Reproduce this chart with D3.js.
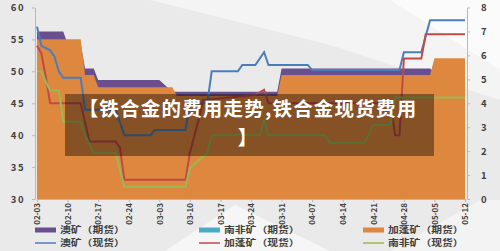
<!DOCTYPE html>
<html>
<head>
<meta charset="utf-8">
<script src="https://cdn.jsdelivr.net/npm/d3@7"></script>
<style>
  body { margin: 0; background: #eaeaea; }
  svg { display: block; }
  .axis text { font-family: "Noto Sans CJK SC", sans-serif; font-weight: bold; fill: #404040; }
  .axis path, .axis line { stroke: #b8b8b8; }
</style>
</head>
<body>
<script>
// week ticks and axis ticks
var weekTicks = ["02-03","02-10","02-17","02-24","03-03","03-10","03-17","03-24","03-31","04-07","04-14","04-21","04-28","05-05","05-12"];
var leftTicks = [30, 35, 40, 45, 50, 55, 60];
var rightTicks = [0, 1, 2, 3, 4, 5, 6, 7, 8];

// futures (right axis, areas)
var ausFut = [["02-03",7.0],["02-09",7.0],["02-10",6.5],["02-13",6.5],["02-14",5.45],["02-16",5.45],["02-17",4.97],["03-03",4.97],["03-06",4.48],["03-30",4.48],["03-31",5.45],["05-04",5.45],["05-05",5.3],["05-12",5.3]];
var safFut = [["02-03",4.2],["03-06",4.0],["05-12",4.0]];
var gabFut = [["02-03",6.67],["02-13",6.67],["02-14",5.18],["02-16",5.18],["02-17",4.67],["03-06",4.67],["03-07",4.3],["03-30",4.3],["03-31",5.18],["05-04",5.18],["05-05",5.88],["05-12",5.88]];

// spot (left axis, lines)
var ausSpot = [["02-03",57],["02-04",54],["02-06",53.3],["02-07",52.3],["02-08",50],["02-09",49],["02-13",49],["02-14",44],["02-21",44],["02-23",40],["03-01",40],["03-02",40.8],["03-09",40.8],["03-10",45],["03-14",45],["03-15",50],["03-21",50],["03-22",51],["03-25",51],["03-27",53],["03-28",51],["04-06",51],["04-07",50.2],["04-27",50.2],["04-28",53],["05-02",53],["05-04",58],["05-12",58]];
var gabSpot = [["02-03",54],["02-04",52.8],["02-05",49.2],["02-06",45],["02-13",45],["02-15",39],["02-21",39],["02-22",38],["02-23",33],["03-09",33],["03-10",37.2],["03-12",42.4],["03-13",45.5],["03-25",46.3],["03-27",47.1],["03-28",45],["04-25",45],["04-26",40],["04-27",40],["04-28",52],["05-02",52],["05-03",55.8],["05-12",55.8]];
var safSpot = [["02-03",50],["02-04",50],["02-05",48.4],["02-06",47],["02-08",47],["02-09",42.1],["02-13",42.1],["02-14",40],["02-16",37.2],["02-21",37.2],["02-23",31.9],["03-09",31.9],["03-10",34.9],["03-14",37.2],["03-15",40],["03-26",40],["03-27",42.4],["03-28",40],["04-10",40],["04-11",38.8],["04-19",38.8],["04-21",41.6],["04-25",41.6],["04-26",45.9],["05-12",45.9]];

var titleLines = ["【铁合金的费用走势,铁合金现货费用", "】"];

var parse = function(s) { return d3.timeParse("%Y-%m-%d")("2025-" + s); };

var svg = d3.select("body").append("svg").attr("width", 500).attr("height", 251);

// background shapes
var bg = svg.append("g");
bg.append("rect").attr("width", 500).attr("height", 251).attr("fill", "#eaeaea");
bg.append("polygon").attr("points", "150,0 500,0 500,100 330,45").attr("fill", "#f4f4f4");
bg.append("polygon").attr("points", "390,0 500,0 500,70").attr("fill", "#fbfbfb");
bg.append("polygon").attr("points", "165,251 235,205 330,251").attr("fill", "#f6f6f6");
bg.append("polygon").attr("points", "390,251 480,200 500,200 500,251").attr("fill", "#f3f3f3");

var x = d3.scaleTime().domain([parse("02-03"), parse("05-12")]).range([37, 465]);
var yL = d3.scaleLinear().domain([30, 60]).range([199, 7.5]);
var yR = d3.scaleLinear().domain([0, 8]).range([199, 7.5]);

var area = d3.area()
    .x(function(d) { return x(parse(d[0])); })
    .y0(yR(0))
    .y1(function(d) { return yR(d[1]); });

var line = d3.line()
    .x(function(d) { return x(parse(d[0])); })
    .y(function(d) { return yL(d[1]); });

var areas = [
  {name: "澳矿（期货）", data: ausFut, color: "#6a4f8e"},
  {name: "南非矿（期货）", data: safFut, color: "#4bacc6"},
  {name: "加蓬矿（期货）", data: gabFut, color: "#de873f"}
];
var lines = [
  {name: "澳矿（现货）", data: ausSpot, color: "#4a7ebb"},
  {name: "加蓬矿（现货）", data: gabSpot, color: "#be4b48"},
  {name: "南非矿（现货）", data: safSpot, color: "#98b954"}
];

svg.append("g").selectAll("path")
  .data(areas)
  .enter().append("path")
    .attr("d", function(d) { return area(d.data); })
    .attr("fill", function(d) { return d.color; });

svg.append("g").selectAll("path")
  .data(lines)
  .enter().append("path")
    .attr("d", function(d) { return line(d.data); })
    .attr("fill", "none")
    .attr("stroke", function(d) { return d.color; })
    .attr("stroke-width", 2);

// axes
var x0 = x.range()[0] - 2, x1 = x.range()[1] + 2;

svg.append("g")
    .attr("class", "axis")
    .attr("transform", "translate(" + x0 + ",0)")
    .call(d3.axisLeft(yL).tickValues(leftTicks).tickSize(3).tickSizeOuter(0).tickPadding(7))
  .selectAll("text")
    .attr("font-size", 9.5)
    .attr("letter-spacing", "1.5px");

svg.append("g")
    .attr("class", "axis")
    .attr("transform", "translate(" + x1 + ",0)")
    .call(d3.axisRight(yR).tickValues(rightTicks).tickSize(3).tickSizeOuter(0).tickPadding(11))
  .selectAll("text")
    .attr("font-size", 9.5);

svg.append("g")
    .attr("class", "axis")
    .attr("transform", "translate(0," + yL(30) + ")")
    .call(d3.axisBottom(x).tickValues(weekTicks.map(parse)).tickFormat(d3.timeFormat("%m-%d")).tickSize(3).tickSizeOuter(0))
  .selectAll("text")
    .attr("font-size", 8)
    .attr("font-weight", "normal")
    .attr("transform", "rotate(-90)")
    .attr("x", -4)
    .attr("y", 0)
    .attr("dy", "0.35em")
    .style("text-anchor", "end");

// title overlay
svg.append("rect")
    .attr("x", 65).attr("y", 94)
    .attr("width", 369).attr("height", 62)
    .attr("fill", "#000").attr("opacity", 0.4);

svg.append("g").selectAll("text")
  .data(titleLines)
  .enter().append("text")
    .attr("x", 248)
    .attr("y", function(d, i) { return 116 + i * 29; })
    .attr("text-anchor", "middle")
    .attr("font-family", "Noto Sans CJK SC, sans-serif")
    .attr("font-weight", "bold")
    .attr("font-size", 19.5)
    .attr("letter-spacing", "1.2px")
    .attr("fill", "#fff")
    .text(function(d) { return d; });

// legend
var legendItems = [
  {name: areas[0].name, color: areas[0].color, w: 5},
  {name: areas[1].name, color: areas[1].color, w: 5},
  {name: areas[2].name, color: areas[2].color, w: 5},
  {name: lines[0].name, color: lines[0].color, w: 1.5},
  {name: lines[1].name, color: lines[1].color, w: 1.5},
  {name: lines[2].name, color: lines[2].color, w: 1.5}
];
var colX = [35, 199, 363];

var legend = svg.append("g").selectAll("g")
  .data(legendItems)
  .enter().append("g")
    .attr("transform", function(d, i) { return "translate(" + colX[i % 3] + "," + (230 + Math.floor(i / 3) * 13) + ")"; });

legend.append("line")
    .attr("x1", 0).attr("x2", 21)
    .attr("stroke", function(d) { return d.color; })
    .attr("stroke-width", function(d) { return d.w; });

legend.append("text")
    .attr("transform", "translate(25,0) scale(1.2,1)")
    .attr("dy", "0.35em")
    .attr("font-family", "Noto Sans CJK SC, sans-serif")
    .attr("font-weight", "bold")
    .attr("font-size", 9)
    .attr("fill", "#404040")
    .text(function(d) { return d.name; });
</script>
</body>
</html>
